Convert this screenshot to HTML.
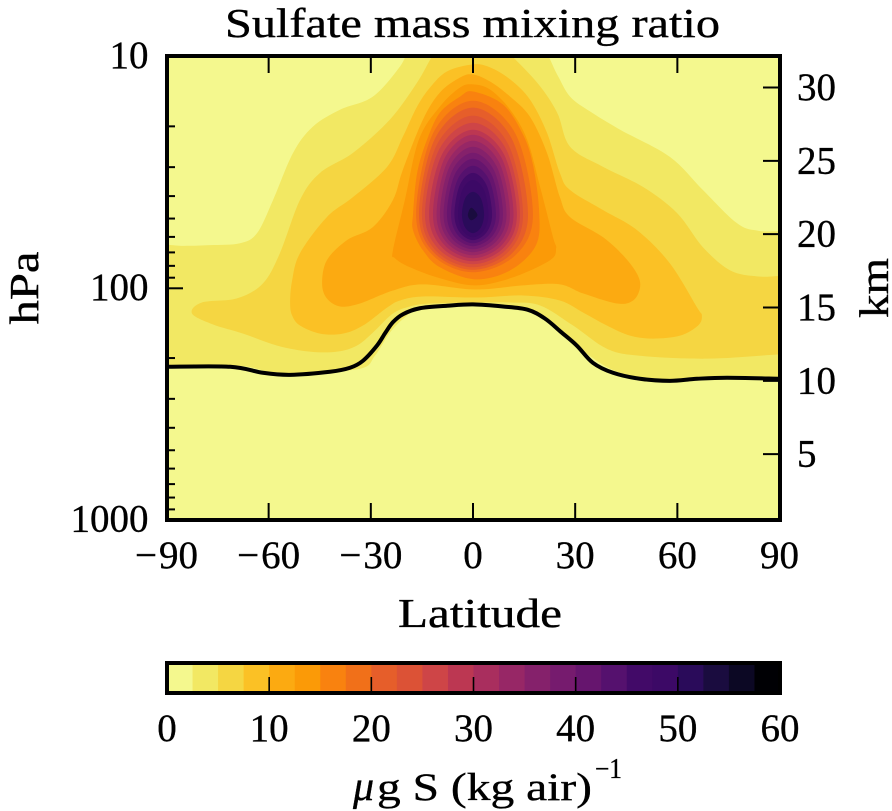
<!DOCTYPE html>
<html lang="en">
<head>
<meta charset="utf-8">
<title>Sulfate mass mixing ratio</title>
<style>
html,body{margin:0;padding:0;background:#fff;}
svg{display:block;}
text{font-family:"Liberation Serif","DejaVu Serif",serif;fill:#000;stroke:#000;stroke-width:0.35px;}
</style>
</head>
<body>
<svg id="chart" xmlns="http://www.w3.org/2000/svg" width="892" height="811" viewBox="0 0 892 811">
  <defs><clipPath id="plot-clip"><rect x="167" y="56" width="613" height="464"></rect></clipPath></defs>
  <rect x="167" y="56" width="613" height="464" fill="#f4f88e"></rect>
  <g id="bands" clip-path="url(#plot-clip)"></g>
  <g id="line" clip-path="url(#plot-clip)"></g>
  <g id="ticks"></g>
  <rect x="167" y="56" width="613" height="464" fill="none" stroke="#000" stroke-width="4"></rect>
  <g id="tick-labels"></g>
  <text x="472.5" y="37" font-size="41" text-anchor="middle" textLength="495" lengthAdjust="spacingAndGlyphs">Sulfate mass mixing ratio</text>
  <text x="480" y="627" font-size="41" text-anchor="middle" textLength="164" lengthAdjust="spacingAndGlyphs">Latitude</text>
  <text transform="translate(38 288) rotate(-90)" font-size="41" text-anchor="middle" textLength="73" lengthAdjust="spacingAndGlyphs">hPa</text>
  <text transform="translate(888 288) rotate(-90)" font-size="41" text-anchor="middle" textLength="60" lengthAdjust="spacingAndGlyphs">km</text>
  <g id="colorbar"></g>
  <text x="353" y="800" font-size="42" font-style="italic">μ</text>
  <text x="377" y="800" font-size="39" textLength="215" lengthAdjust="spacingAndGlyphs">g S (kg air)</text>
  <text x="595" y="778" font-size="28" textLength="27" lengthAdjust="spacingAndGlyphs">−1</text>
</svg>
<script>
// Contour levels (µg S / kg air) and band colours
const levelStep = 2.5;
const levelCount = 24;
const bandColors = ["#f4f88e","#f2e863","#f5d642","#fbc125","#fcaa11","#fb9a07","#f9820f","#f17019","#e65e2a","#dc5236","#ce4547","#bc3752","#a92e5e","#972766","#85216b","#761b6e","#66156e","#55116e","#420a68","#3c0966","#2a0b5a","#1a0c3f","#0c0824","#000004"];

// Filled contour outlines, each point is [latitude (deg), altitude (km)]
const contour2p5 = [[-98,19.2],[-85,19.2],[-77.2,19.25],[-68.4,19.38],[-63.4,20.07],[-58.7,22.33],[-52.8,25.55],[-47,27.33],[-39,28.49],[-29.4,29.38],[-21.4,31.44],[-17.9,32.95],[-10,34],[10,34],[19.7,32.95],[24.7,30.89],[28.5,29.38],[34.4,28.36],[43.2,27.12],[57.8,25.27],[67.5,23.01],[77.5,20.75],[84.3,20.21],[98,19.93],[98,17],[98,13],[98,10.3],[85,10.3],[72.5,10.34],[57.8,10.07],[43.2,10.55],[32.9,11.92],[21.1,14.11],[13.8,14.86],[0,15.14],[-15.6,14.86],[-20,14.32],[-24.4,13.29],[-28.8,11.71],[-33.2,10.82],[-50.8,10.55],[-59.6,10.62],[-68.4,11.03],[-85,11.05],[-98,11.05],[-98,13],[-98,17]];
const contour5 = [[-82.5,14.59],[-79.6,15.34],[-69.3,15.62],[-61.7,16.64],[-56.7,18.7],[-50.8,22.33],[-44.9,24.18],[-35.2,25.55],[-24.4,27.81],[-16.4,30.34],[-10.6,32.6],[-5,33.5],[5,33.5],[9.4,32.6],[18.8,30.34],[24.7,28.29],[28.5,25.96],[38.2,24.59],[49.9,23.22],[59.9,21.44],[67.5,19.11],[75.5,17.53],[83.4,17.12],[90,17.15],[97,17.2],[97,16],[97,13],[97,11.8],[90,11.8],[68.7,11.51],[49,11.71],[39.3,12.19],[29.4,13.77],[19.7,15.14],[10.9,15.34],[0,15.34],[-12.6,15.27],[-18.5,15.07],[-23.5,14.59],[-29.4,13.29],[-34.1,12.4],[-39.9,11.99],[-47.9,11.99],[-57.5,12.4],[-67.5,13.22],[-76.3,13.84]];
const contour7p5 = [[-53.7,15.34],[-53.1,16.85],[-50.8,18.7],[-42.9,21.16],[-35.2,22.53],[-25.2,24.59],[-20.6,26.64],[-16.4,28.7],[-12.6,30],[-7.6,31.1],[0,31.58],[5,31.37],[10.9,30.55],[16.7,29.18],[21.7,26.92],[25.5,24.18],[28.5,23.01],[38.2,21.64],[48.2,20.27],[57.8,18.01],[65.8,15],[67.2,14.45],[66.1,13.77],[60.8,13.08],[52.8,12.88],[46.1,13.08],[39.3,13.77],[32.3,14.66],[25.5,15.48],[14.7,15.82],[0.6,15.68],[-14.7,15.75],[-21.4,15.48],[-25.2,15],[-32.3,13.77],[-38.2,13.22],[-44.9,13.22],[-50.8,13.77],[-53.1,14.45]];
const contour10 = [[-44.3,16.64],[-42.9,18.22],[-37,19.59],[-29.4,20.48],[-23.5,22.33],[-20.6,24.38],[-14.7,27.81],[-9.7,29.66],[-3.8,30.68],[0,30.89],[5,30.41],[10.9,29.38],[16.7,28.01],[21.7,25.55],[25.5,22.53],[28.5,21.16],[38.2,19.79],[44.6,18.42],[48.4,17.19],[49,16.3],[47,15.48],[42.3,15.27],[32.3,15.96],[25.5,16.58],[14.7,16.51],[0.6,16.23],[-14.7,16.58],[-23.5,16.16],[-33.2,15.27],[-39,15.07],[-42.9,15.62]];
const contour12p5 = [[-23.5,18.9],[-20,22.33],[-15.9,26.44],[-9.7,28.7],[-3.8,30],[0,30.21],[5,29.86],[10.9,28.49],[15.9,26.44],[19.7,23.22],[23.5,19.79],[24.4,19.04],[22.6,18.22],[11.7,17.05],[0.6,16.51],[-9.7,16.99],[-18.5,17.74],[-22.9,18.36]];
const contour15 = [[-17.6,21.37],[-16.4,24.18],[-13.5,26.44],[-9.7,28.29],[-3.8,29.38],[0,29.73],[8.8,28.84],[14.7,26.78],[17.6,24.73],[19.4,21.64],[18.5,19.25],[10.9,17.53],[0.6,16.92],[-9.7,17.74],[-14.7,18.9],[-17.6,20.27]];
const contour17p5 = [[0,29.1],[12.45,26.85],[17.6,21.35],[12.45,18.56],[0,17.4],[-11.8,18.56],[-16.7,21.35],[-11.8,26.85]];
const contour20 = [[0,28.63],[11.4,26.5],[16.15,21.35],[11.4,18.68],[0,17.57],[-11.2,18.68],[-15.85,21.35],[-11.2,26.5]];
const contour22p5 = [[0,28.08],[10.4,26.1],[14.7,21.35],[10.4,18.8],[0,17.74],[-10.6,18.8],[-15,21.35],[-10.6,26.1]];
const contour25 = [[0,27.6],[9.75,25.77],[13.8,21.35],[9.75,18.95],[0,17.95],[-9.95,18.95],[-14.1,21.35],[-9.95,25.77]];
const contour27p5 = [[0,27.12],[9.1,25.44],[12.9,21.35],[9.1,19.09],[0,18.15],[-9.1,19.09],[-12.9,21.35],[-9.1,25.44]];
const contour30 = [[0,26.78],[8.4,25.19],[11.9,21.35],[8.4,19.24],[0,18.36],[-8.3,19.24],[-11.75,21.35],[-8.3,25.19]];
const contour32p5 = [[0,26.37],[7.65,24.9],[10.85,21.35],[7.65,19.38],[0,18.56],[-7.55,19.38],[-10.7,21.35],[-7.55,24.9]];
const contour35 = [[0,25.96],[6.95,24.62],[9.85,21.35],[6.95,19.53],[0,18.77],[-6.85,19.53],[-9.7,21.35],[-6.85,24.62]];
const contour37p5 = [[0,25.55],[6.2,24.33],[8.8,21.35],[6.2,19.67],[0,18.97],[-6.1,19.67],[-8.65,21.35],[-6.1,24.33]];
const contour40 = [[0,25.14],[5.5,24.04],[7.8,21.35],[5.5,19.82],[0,19.18],[-5.4,19.82],[-7.65,21.35],[-5.4,24.04]];
const contour42p5 = [[0,24.66],[4.75,23.7],[6.75,21.35],[4.75,19.96],[0,19.38],[-4.55,19.96],[-6.45,21.35],[-4.55,23.7]];
const contour45 = [[0,24.18],[3.95,23.36],[5.6,21.35],[3.95,20.11],[0,19.59],[-3.85,20.11],[-5.45,21.35],[-3.85,23.36]];
const contour47p5 = [[0,23.7],[3.2,23.02],[4.55,21.35],[3.2,20.25],[0,19.79],[-3.1,20.25],[-4.4,21.35],[-3.1,23.02]];
const contour50 = [[0,22.88],[2.3,22.44],[3.25,21.35],[2.3,20.45],[0,20.07],[-2.3,20.45],[-3.25,21.35],[-2.3,22.44]];
const contour52p5 = [[-0.5,21.8],[1.3,21.3],[-0.5,20.95],[-1.5,21.3]];
const contours = [contour2p5,contour5,contour7p5,contour10,contour12p5,contour15,contour17p5,contour20,contour22p5,contour25,contour27p5,contour30,contour32p5,contour35,contour37p5,contour40,contour42p5,contour45,contour47p5,contour50,contour52p5];

// Tropopause line
const tropopauseLat = [-90,-71.3,-61.7,-53.7,-42,-36.1,-32.3,-28.2,-25.8,-23.5,-20.5,-15.6,-7.6,0,8.8,16,21.1,26,30.5,35.2,41.1,49,57.8,65.8,74.6,90];
const tropopauseKm = [10.96,10.96,10.55,10.41,10.62,10.89,11.37,12.4,13.25,14.0,14.55,14.95,15.12,15.21,15.07,14.85,14.25,13.3,12.4,11.23,10.55,10.14,10,10.14,10.21,10.14];

// Axis ticks
const latTicks = [-90,-60,-30,0,30,60,90];
const latTickLabels = ["−90","−60","−30","0","30","60","90"];
const pressureMajorTicks = [10,100,1000];
const pressureMajorLabels = ["10","100","1000"];
const pressureMinorTicks = [20,30,40,50,60,70,80,90,200,300,400,500,600,700,800,900];
const kmTicks = [5,10,15,20,25,30];
const kmTickLabels = ["5","10","15","20","25","30"];
const colorbarTicks = [0,10,20,30,40,50,60];
const colorbarTickLabels = ["0","10","20","30","40","50","60"];

// Axis functions
function xLat(lat){ return 473 + 3.406*lat; }
function yKm(km){ return 527.5 - 14.667*km; }
function yPressure(p){ return 56.6 + 231.7*Math.log10(p/10); }
function xColor(v){ return 167 + 613*v/(levelStep*levelCount); }

const NS = "http://www.w3.org/2000/svg";
function make(tag, attrs, parent){
  const el = document.createElementNS(NS, tag);
  for (const k in attrs) el.setAttribute(k, attrs[k]);
  parent.appendChild(el);
  return el;
}
function f(n){ return n.toFixed(2); }
function splinePath(pts, closed){
  const n = pts.length;
  const at = i => closed ? pts[(i+n)%n] : pts[Math.max(0,Math.min(n-1,i))];
  let d = "M"+f(pts[0][0])+" "+f(pts[0][1]);
  const segs = closed ? n : n-1;
  for (let i=0;i<segs;i++){
    const p0=at(i-1),p1=at(i),p2=at(i+1),p3=at(i+2);
    d += "C"+f(p1[0]+(p2[0]-p0[0])/6)+" "+f(p1[1]+(p2[1]-p0[1])/6)+" "+f(p2[0]-(p3[0]-p1[0])/6)+" "+f(p2[1]-(p3[1]-p1[1])/6)+" "+f(p2[0])+" "+f(p2[1]);
  }
  return closed ? d+"Z" : d;
}

// Contour bands
const bandsG = document.getElementById("bands");
contours.forEach(function(contour,i){
  const pts = contour.map(function(c){ return [xLat(c[0]), yKm(c[1])]; });
  const band = make("path", {d:splinePath(pts,true), fill:bandColors[i+1]}, bandsG);
  
  
});

// Tropopause
const linePts = tropopauseLat.map(function(lat,i){ return [xLat(lat), yKm(tropopauseKm[i])]; });
const tropLine = make("path", {d:splinePath(linePts,false), fill:"none", stroke:"#000", "stroke-width":4, "stroke-linejoin":"round"}, document.getElementById("line"));



// Ticks
const ticksG = document.getElementById("ticks");
function tick(x1,y1,x2,y2,name){
  const t = make("line", {x1:x1,y1:y1,x2:x2,y2:y2,stroke:"#000","stroke-width":2}, ticksG);
  
  
}
latTicks.forEach(function(v){
  tick(xLat(v),520,xLat(v),503,'x-tick-bottom');
  tick(xLat(v),56,xLat(v),73,'x-tick-top');
});
pressureMajorTicks.forEach(function(p){ tick(167,yPressure(p),183,yPressure(p),'y-major-tick-pressure'); });
pressureMinorTicks.forEach(function(p){ tick(167,yPressure(p),175,yPressure(p),'y-minor-tick-pressure'); });
kmTicks.forEach(function(k){ tick(780,yKm(k),763,yKm(k),'y-tick-altitude'); });

// Tick labels
const labelsG = document.getElementById("tick-labels");
function label(x,y,str,anchor,name,parent){
  const t = make("text", {x:x,y:y,"font-size":39,"text-anchor":anchor}, parent||labelsG);
  if (str.charAt(0)==="−"){
    const sign = make("tspan", {}, t);
    sign.textContent = "−";
    const digits = make("tspan", {dx:2}, t);
    digits.textContent = str.slice(1);
  } else {
    t.textContent = str;
  }
  
  
  return t;
}
latTicks.forEach(function(v,i){ label(xLat(v),568,latTickLabels[i],"middle",'x-tick-label'); });
pressureMajorTicks.forEach(function(p,i){ label(148.5,yPressure(p)+11.5,pressureMajorLabels[i],"end",'y-tick-label-pressure'); });
kmTicks.forEach(function(k,i){ label(797,yKm(k)+12.5,kmTickLabels[i],"start",'y-tick-label-altitude'); });

// Colorbar
const cbG = document.getElementById("colorbar");
for (let i=0;i<levelCount;i++){
  const seg = make("rect", {x:xColor(i*levelStep),y:663,width:xColor(levelStep)-xColor(0)+0.5,height:30,fill:bandColors[i]}, cbG);
  
  
}
const cbFrame = make("rect", {x:167,y:663,width:613,height:30,fill:"none",stroke:"#000","stroke-width":4}, cbG);


colorbarTicks.forEach(function(v,i){
  const t = make("line", {x1:xColor(v),y1:692,x2:xColor(v),y2:677,stroke:"#000","stroke-width":1.6}, cbG);
  
  
  label(xColor(v),741,colorbarTickLabels[i],"middle",'colorbar-tick-label',cbG);
});
</script>
</body>
</html>
